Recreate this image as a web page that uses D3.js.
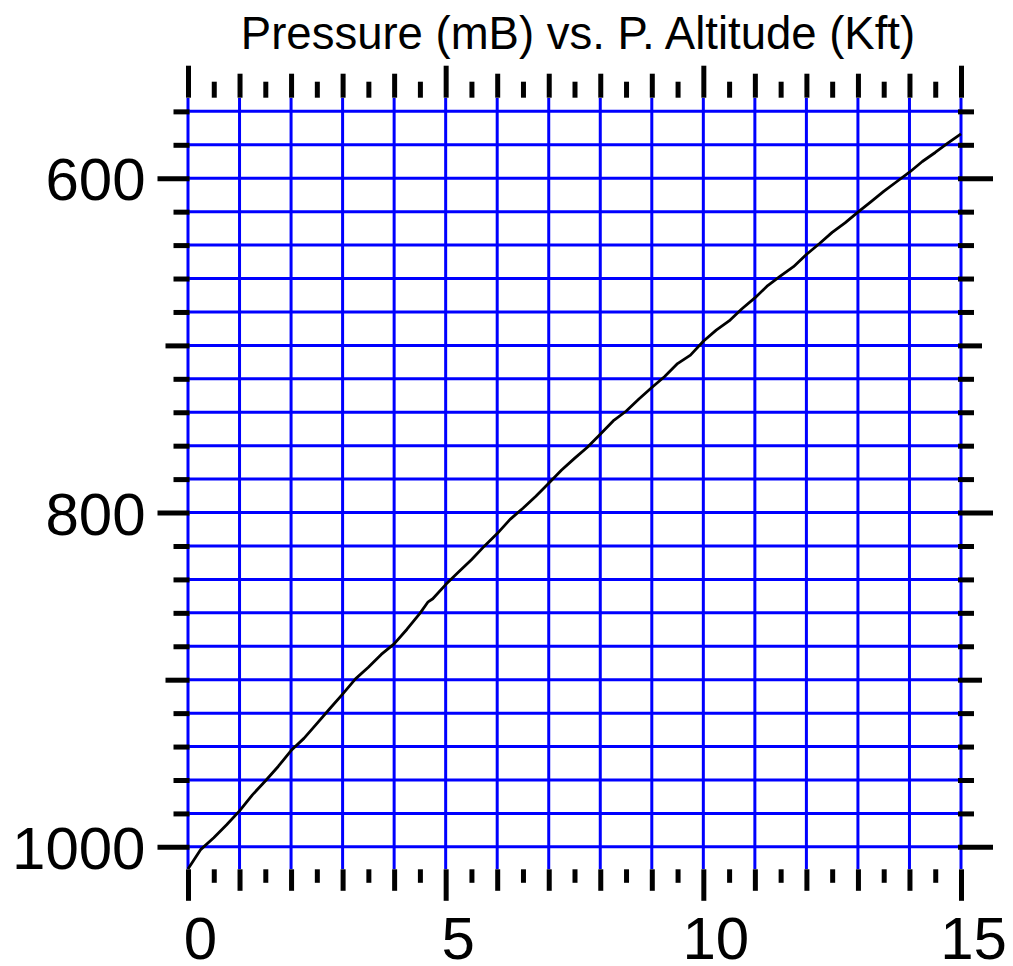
<!DOCTYPE html>
<html>
<head>
<meta charset="utf-8">
<script src="https://cdn.jsdelivr.net/npm/d3@7"></script>
<style>
  body { margin: 0; background: #ffffff; }
  text { font-family: "Liberation Sans", Arial, sans-serif; }
</style>
</head>
<body>
<div id="chart"></div>
<script>
// pressure altitude (Kft) and pressure (mB)
var altitudes = [0, 0.25, 0.5, 0.75, 1, 1.25, 1.5, 1.75, 2, 2.25, 2.5, 2.75, 3, 3.25, 3.5, 3.75,
    4, 4.25, 4.5, 4.66, 4.75, 5, 5.25, 5.5, 5.75, 6, 6.25, 6.5, 6.75, 7, 7.25, 7.5, 7.75,
    8, 8.25, 8.5, 8.75, 9, 9.25, 9.5, 9.75, 10, 10.25, 10.5, 10.75, 11, 11.25, 11.5, 11.75,
    12, 12.25, 12.5, 12.75, 13, 13.25, 13.5, 13.75, 14, 14.25, 14.5, 14.75, 15];
var pressures = [1013.3, 1001.5, 994.6, 986.8, 978.5, 968.9, 960.6, 951.9, 942.4, 935.1, 926.3, 917.4,
    908.6, 899.5, 892.6, 884.9, 878.6, 869.8, 860.3, 853.4, 851.6, 843.1, 835.6, 828.2, 820.1,
    812.6, 804.1, 797.4, 790.2, 782.5, 774.6, 767.6, 760.9, 753.1, 745.2, 739.4, 732.1, 725.2,
    718.6, 710.9, 705.8, 697.5, 690.9, 685.4, 678.1, 671.6, 664.2, 658.4, 652.9, 645.6, 639.2,
    632.4, 626.7, 620.3, 614.1, 607.9, 602.1, 596.4, 590.0, 584.6, 578.9, 573.5];

// tick values
var xLabels = [0, 5, 10, 15];
var xInts = [1, 2, 3, 4, 6, 7, 8, 9, 11, 12, 13, 14];
var xHalves = [0.5, 1.5, 2.5, 3.5, 4.5, 5.5, 6.5, 7.5, 8.5, 9.5, 10.5, 11.5, 12.5, 13.5, 14.5];
var xGrid = d3.range(0, 16);
var yLabels = [600, 800, 1000];
var yMid = [700, 900];
var yMinor = [560, 580, 620, 640, 660, 680, 720, 740, 760, 780, 820, 840, 860, 880, 920, 940, 960, 980];
var yGrid = d3.range(560, 1001, 20);
var title = "Pressure (mB) vs. P. Altitude (Kft)";

var width = 1013, height = 966;
var plotLeft = 188, plotRight = 961, plotTop = 98, plotBottom = 869;

var svg = d3.select("#chart").append("svg")
    .attr("width", width)
    .attr("height", height);

var x = d3.scaleLinear().domain([0, 15]).range([plotLeft, plotRight]);
var y = d3.scaleLinear().domain([552, 1013.25]).range([plotTop, plotBottom]);

// blue grid
svg.append("g")
    .selectAll("line")
    .data(xGrid)
    .join("line")
    .attr("x1", d => x(d))
    .attr("x2", d => x(d))
    .attr("y1", plotTop)
    .attr("y2", plotBottom)
    .attr("stroke", "#0000ff")
    .attr("stroke-width", 3);

svg.append("g")
    .selectAll("line")
    .data(yGrid)
    .join("line")
    .attr("x1", plotLeft)
    .attr("x2", plotRight)
    .attr("y1", d => y(d))
    .attr("y2", d => y(d))
    .attr("stroke", "#0000ff")
    .attr("stroke-width", 3);

// the curve
var points = altitudes.map(function (a, i) { return [a, pressures[i]]; });
svg.append("path")
    .datum(points)
    .attr("fill", "none")
    .attr("stroke", "#000000")
    .attr("stroke-width", 2.8)
    .attr("stroke-linejoin", "round")
    .attr("d", d3.line()
        .x(function (d) { return x(d[0]); })
        .y(function (d) { return y(d[1]); }));

// tick marks, one axis per tick length
function ticks(axis, values, size, tx, ty) {
    var g = svg.append("g")
        .attr("transform", "translate(" + tx + "," + ty + ")")
        .call(axis.tickValues(values).tickSize(size).tickFormat(""));
    g.select(".domain").remove();
    g.selectAll(".tick line")
        .attr("stroke", "#000000")
        .attr("stroke-width", 5);
}

ticks(d3.axisTop(x), xLabels, 32, 0, 97.7);
ticks(d3.axisTop(x), xInts, 24, 0, 97.7);
ticks(d3.axisTop(x), xHalves, 16, 0, 97.7);

ticks(d3.axisBottom(x), xLabels, 31.5, 0, 869.3);
ticks(d3.axisBottom(x), xInts, 21.5, 0, 869.3);
ticks(d3.axisBottom(x), xHalves, 13.5, 0, 869.3);

ticks(d3.axisLeft(y), yLabels, 32, 189.5, 0);
ticks(d3.axisLeft(y), yMid, 24, 189.5, 0);
ticks(d3.axisLeft(y), yMinor, 16, 189.5, 0);

ticks(d3.axisRight(y), yLabels, 35, 958, 0);
ticks(d3.axisRight(y), yMid, 24, 958, 0);
ticks(d3.axisRight(y), yMinor, 16, 958, 0);

// tick labels
var yAxis = svg.append("g")
    .attr("transform", "translate(189.5,0)")
    .call(d3.axisLeft(y).tickValues(yLabels).tickSize(0).tickPadding(44).tickFormat(d3.format("d")));
yAxis.select(".domain").remove();
yAxis.selectAll(".tick text")
    .attr("dy", "0.36em")
    .attr("font-family", "Liberation Sans, Arial, sans-serif")
    .attr("font-size", "60px")
    .attr("fill", "#000000");

var xAxis = svg.append("g")
    .attr("transform", "translate(0,869.3)")
    .call(d3.axisBottom(x).tickValues(xLabels).tickSize(0).tickPadding(47).tickFormat(d3.format("d")));
xAxis.select(".domain").remove();
xAxis.selectAll(".tick text")
    .attr("dx", 12)
    .attr("font-family", "Liberation Sans, Arial, sans-serif")
    .attr("font-size", "60px")
    .attr("fill", "#000000");

// title
svg.append("text")
    .attr("x", 578)
    .attr("y", 49)
    .attr("text-anchor", "middle")
    .attr("font-family", "Liberation Sans, Arial, sans-serif")
    .attr("font-size", "45.5px")
    .attr("fill", "#000000")
    .text(title);
</script>
</body>
</html>
